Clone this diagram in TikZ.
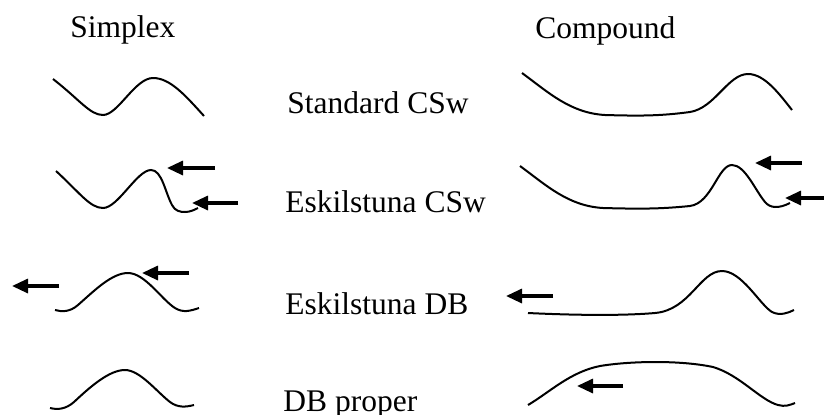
\documentclass[tikz,border=0pt]{standalone}
\usepackage{fontspec}
\setmainfont{Liberation Serif}
\usetikzlibrary{arrows.meta}
\begin{document}
\begin{tikzpicture}[x=0.5pt,y=-0.5pt,
  wave/.style={line width=1pt,black},
  motion/.style={line width=1.6pt,-{Triangle[length=8pt,width=7pt]}},
  lbl/.style={anchor=base west,inner sep=0pt,font=\fontsize{15.75}{18}\selectfont}]
\useasboundingbox (0,0) rectangle (824,414);
% headings and labels
\node[lbl] (simplex) at (70,37) {Simplex};
\node[lbl] (compound) at (535,38) {Compound};
\node[lbl] (std) at (287,113) {Standard CSw};
\node[lbl] (eskcsw) at (285,212) {Eskilstuna CSw};
\node[lbl] (eskdb) at (285,314) {Eskilstuna DB};
\node[lbl] (dbp) at (283,411) {DB proper};
% simplex waves
\draw[wave] (53,79) .. controls (80,100) and (90,115) .. (103,115)
  .. controls (118,115) and (135,78) .. (153,78)
  .. controls (170,78) and (185,95) .. (204,116);
\draw[wave] (56,171) .. controls (80,193) and (90,208) .. (103,208)
  .. controls (118,208) and (137,170) .. (151,170)
  .. controls (162,170) and (165,192) .. (172,205)
  .. controls (175,211) and (180,212) .. (185,212)
  .. controls (190,212) and (194,210) .. (198,208);
\draw[wave] (55,310) .. controls (62,312) and (70,312) .. (78,305)
  .. controls (95,290) and (112,273) .. (128,273)
  .. controls (145,273) and (162,300) .. (175,308)
  .. controls (183,313) and (190,311) .. (199,308);
\draw[wave] (50,408) .. controls (58,410) and (66,409) .. (74,402)
  .. controls (92,385) and (110,370) .. (125,370)
  .. controls (140,370) and (157,392) .. (170,402)
  .. controls (178,408) and (186,407) .. (194,405);
% compound waves
\draw[wave] (522,73) .. controls (548,92) and (570,113) .. (605,115)
  .. controls (640,116) and (660,116) .. (690,112)
  .. controls (715,108) and (728,74) .. (748,74)
  .. controls (765,74) and (780,95) .. (792,110);
\draw[wave] (520,166) .. controls (546,185) and (568,206) .. (603,208)
  .. controls (640,209) and (660,209) .. (690,206)
  .. controls (712,203) and (718,165) .. (732,165)
  .. controls (745,165) and (755,190) .. (765,202)
  .. controls (770,208) and (778,209) .. (790,203);
\draw[wave] (528,313) .. controls (570,315) and (620,316) .. (655,313)
  .. controls (690,310) and (700,271) .. (722,271)
  .. controls (742,271) and (760,305) .. (772,312)
  .. controls (780,316) and (788,313) .. (794,310);
\draw[wave] (528,405) .. controls (550,392) and (570,372) .. (600,366)
  .. controls (630,361) and (680,360) .. (713,367)
  .. controls (740,375) and (760,400) .. (778,405)
  .. controls (785,407) and (790,405) .. (795,403);
% arrow end points
\coordinate (a1s) at (215,168); \coordinate (a1e) at (167,168);
\coordinate (a2s) at (238,203); \coordinate (a2e) at (192,203);
\coordinate (a3s) at (59,286);  \coordinate (a3e) at (12,286);
\coordinate (a4s) at (189,273); \coordinate (a4e) at (142,273);
\coordinate (a5s) at (802,163); \coordinate (a5e) at (755,163);
\coordinate (a6s) at (824,198); \coordinate (a6e) at (785,198);
\coordinate (a7s) at (553,296); \coordinate (a7e) at (506,296);
\coordinate (a8s) at (623,386); \coordinate (a8e) at (577,386);
\foreach \i in {1,...,8} \draw[motion] (a\i s) -- (a\i e);
\end{tikzpicture}
\end{document}
